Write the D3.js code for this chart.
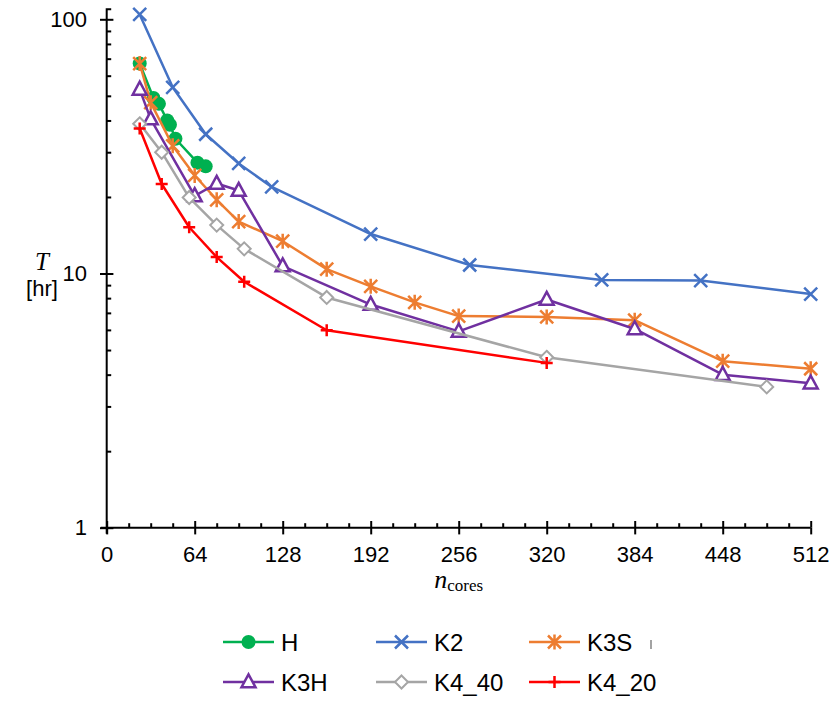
<!DOCTYPE html>
<html>
<head>
<meta charset="utf-8">
<script src="https://cdn.jsdelivr.net/npm/d3@7"></script>
<style>
  html, body { margin: 0; padding: 0; background: #fff; }
  svg { display: block; }
  .tick text { font-family: "Liberation Sans", Arial, sans-serif; }
</style>
</head>
<body>
<svg id="chart" width="834" height="705"></svg>
<script>
// ---- Data ----
const seriesNames = ["H", "K2", "K3S", "K3H", "K4_40", "K4_20"];

const coresH   = [24, 34, 38, 44, 46, 50, 66, 72];
const timeH    = [67, 49, 46.5, 40, 38.5, 33.9, 27.3, 26.4];

const coresK2  = [24, 48, 72, 96, 120, 192, 264, 360, 432, 512];
const timeK2   = [104.5, 54, 35.3, 27.1, 21.9, 14.3, 10.8, 9.43, 9.38, 8.3];

const coresK3S = [24, 32, 48, 64, 80, 96, 128, 160, 192, 224, 256, 320, 384, 448, 512];
const timeK3S  = [67, 47, 31.8, 24.3, 19.5, 16, 13.4, 10.4, 8.9, 7.7, 6.8, 6.75, 6.55, 4.52, 4.22];

const coresK3H = [24, 32, 64, 80, 96, 128, 192, 256, 320, 384, 448, 512];
const timeK3H  = [53, 40.5, 20.2, 22.6, 21.2, 10.7, 7.55, 5.92, 7.9, 6.05, 4.0, 3.7];

const coresK440 = [24, 40, 60, 80, 100, 160, 320, 480];
const timeK440  = [38.8, 30, 19.9, 15.5, 12.5, 8.05, 4.68, 3.58];

const coresK420 = [24, 40, 60, 80, 100, 160, 320];
const timeK420  = [37.2, 22.5, 15.2, 11.6, 9.28, 5.98, 4.45];

const xTickLabels = [0, 64, 128, 192, 256, 320, 384, 448, 512];
const yTickLabels = [1, 10, 100];

const colors = {
  "H": "#00B050", "K2": "#4472C4", "K3S": "#ED7D31",
  "K3H": "#7030A0", "K4_40": "#A5A5A5", "K4_20": "#FF0000"
};

const series = [
  { name: "H",     x: coresH,    y: timeH,    marker: "circle" },
  { name: "K2",    x: coresK2,   y: timeK2,   marker: "x" },
  { name: "K3S",   x: coresK3S,  y: timeK3S,  marker: "star" },
  { name: "K3H",   x: coresK3H,  y: timeK3H,  marker: "triangle" },
  { name: "K4_40", x: coresK440, y: timeK440, marker: "diamond" },
  { name: "K4_20", x: coresK420, y: timeK420, marker: "plus" }
];

// ---- Scales ----
const svg = d3.select("#chart");
const xScale = d3.scaleLinear().domain([0, 512]).range([106.7, 810.7]);
const yScale = d3.scaleLog().domain([1, 100]).range([527.7, 19.3]);

const axisColor = "#000";
const fontSans = '"Liberation Sans", Arial, sans-serif';
const fontSerif = '"Liberation Serif", "DejaVu Serif", serif';

// ---- X axis ----
const xMinor = d3.range(0, 513, 16).filter(v => v % 64 !== 0);
const gx = svg.append("g").attr("transform", `translate(0,${yScale(1)})`);
gx.call(d3.axisBottom(xScale).tickValues(xTickLabels).tickFormat(d3.format("d"))
    .tickSizeInner(6.7).tickSizeOuter(0).tickPadding(12));
gx.append("g").attr("class", "up").call(d3.axisBottom(xScale).tickValues(xTickLabels).tickFormat("")
    .tickSizeInner(-6.7).tickSizeOuter(0));
gx.append("g").attr("class", "up").call(d3.axisBottom(xScale).tickValues(xMinor).tickFormat("")
    .tickSizeInner(-4.5).tickSizeOuter(0));
gx.selectAll("g.up path.domain").remove();
gx.select("path.domain").attr("stroke", axisColor).attr("stroke-width", 2)
  .attr("d", `M${xScale(0) - 6},0H${xScale(512)}`);
gx.selectAll(".tick line").attr("stroke", axisColor).attr("stroke-width", 2);
gx.selectAll(".tick text").attr("font-size", 22).attr("fill", "#000");

// ---- Y axis ----
const yMinor = [];
[1, 10].forEach(b => { for (let k = 2; k <= 9; k++) yMinor.push(b * k); });
const gy = svg.append("g").attr("transform", `translate(${xScale(0)},0)`);
gy.call(d3.axisLeft(yScale).tickValues(yTickLabels).tickFormat(d3.format("d"))
    .tickSizeInner(6.7).tickSizeOuter(0).tickPadding(13));
gy.append("g").attr("class", "up").call(d3.axisLeft(yScale).tickValues(yTickLabels).tickFormat("")
    .tickSizeInner(-6.7).tickSizeOuter(0));
gy.append("g").attr("class", "up").call(d3.axisLeft(yScale).tickValues(yMinor).tickFormat("")
    .tickSizeInner(-4.5).tickSizeOuter(0));
gy.selectAll("g.up path.domain").remove();
gy.select("path.domain").attr("stroke", axisColor).attr("stroke-width", 2)
  .attr("d", `M4.5,${yScale(100) - 10}H0V${yScale(1) + 6}`);
gy.selectAll(".tick line").attr("stroke", axisColor).attr("stroke-width", 2);
gy.selectAll(".tick text").attr("font-size", 22).attr("fill", "#000");

// ---- Axis titles ----
svg.append("text").attr("x", 42).attr("y", 270).attr("text-anchor", "middle")
  .attr("font-family", fontSerif).attr("font-style", "italic").attr("font-size", 25)
  .text("T");
svg.append("text").attr("x", 42).attr("y", 296).attr("text-anchor", "middle")
  .attr("font-family", fontSans).attr("font-size", 22).text("[hr]");

const xt = svg.append("text").attr("x", (xScale(0) + xScale(512)) / 2).attr("y", 588)
  .attr("text-anchor", "middle").attr("font-family", fontSerif);
xt.append("tspan").attr("font-style", "italic").attr("font-size", 26).text("n");
xt.append("tspan").attr("font-size", 17).attr("dy", 3).text("cores");

// ---- Markers ----
function drawMarker(g, type, color, cx, cy) {
  if (type === "circle") {
    g.append("circle").attr("cx", cx).attr("cy", cy).attr("r", 7).attr("fill", color);
  } else if (type === "x") {
    const s = 6.5;
    g.append("path").attr("d", `M${cx - s},${cy - s}L${cx + s},${cy + s}M${cx - s},${cy + s}L${cx + s},${cy - s}`)
      .attr("stroke", color).attr("stroke-width", 2.5).attr("fill", "none");
  } else if (type === "star") {
    const s = 6.5, v = 7.5;
    g.append("path").attr("d", `M${cx - s},${cy - s}L${cx + s},${cy + s}M${cx - s},${cy + s}L${cx + s},${cy - s}M${cx},${cy - v}L${cx},${cy + v}`)
      .attr("stroke", color).attr("stroke-width", 2.5).attr("fill", "none");
  } else if (type === "triangle") {
    const s = 7;
    g.append("path").attr("d", `M${cx},${cy - s * 1.1}L${cx + s},${cy + s * 0.75}L${cx - s},${cy + s * 0.75}Z`)
      .attr("stroke", color).attr("stroke-width", 2.5).attr("fill", "#fff");
  } else if (type === "diamond") {
    const s = 6.5;
    g.append("path").attr("d", `M${cx},${cy - s}L${cx + s},${cy}L${cx},${cy + s}L${cx - s},${cy}Z`)
      .attr("stroke", color).attr("stroke-width", 2).attr("fill", "#fff");
  } else if (type === "plus") {
    const s = 6;
    g.append("path").attr("d", `M${cx - s},${cy}L${cx + s},${cy}M${cx},${cy - s}L${cx},${cy + s}`)
      .attr("stroke", color).attr("stroke-width", 2.5).attr("fill", "none");
  }
}

// ---- Series ----
const line = d3.line().x(d => xScale(d[0])).y(d => yScale(d[1]));
series.forEach(s => {
  const pts = s.x.map((v, i) => [v, s.y[i]]);
  const g = svg.append("g").attr("class", "series-" + s.name);
  g.append("path").datum(pts).attr("d", line).attr("fill", "none")
    .attr("stroke", colors[s.name]).attr("stroke-width", 2.5).attr("stroke-linejoin", "round");
  pts.forEach(p => drawMarker(g, s.marker, colors[s.name], xScale(p[0]), yScale(p[1])));
});

// ---- Legend ----
const legendCols = [223, 376, 529];
const legendRows = [642, 682];
series.forEach((s, i) => {
  const lx = legendCols[i % 3], ly = legendRows[Math.floor(i / 3)];
  const g = svg.append("g").attr("class", "legend");
  g.append("line").attr("x1", lx).attr("x2", lx + 51).attr("y1", ly).attr("y2", ly)
    .attr("stroke", colors[s.name]).attr("stroke-width", 2.5);
  drawMarker(g, s.marker, colors[s.name], lx + 25.5, ly);
  g.append("text").attr("x", lx + 58).attr("y", ly + 8.5)
    .attr("font-family", fontSans).attr("font-size", 24).attr("fill", "#000").text(s.name);
});
// small stray mark beside legend
svg.append("line").attr("x1", 651).attr("x2", 651).attr("y1", 640).attr("y2", 649)
  .attr("stroke", "#666").attr("stroke-width", 1.2);
</script>
</body>
</html>
